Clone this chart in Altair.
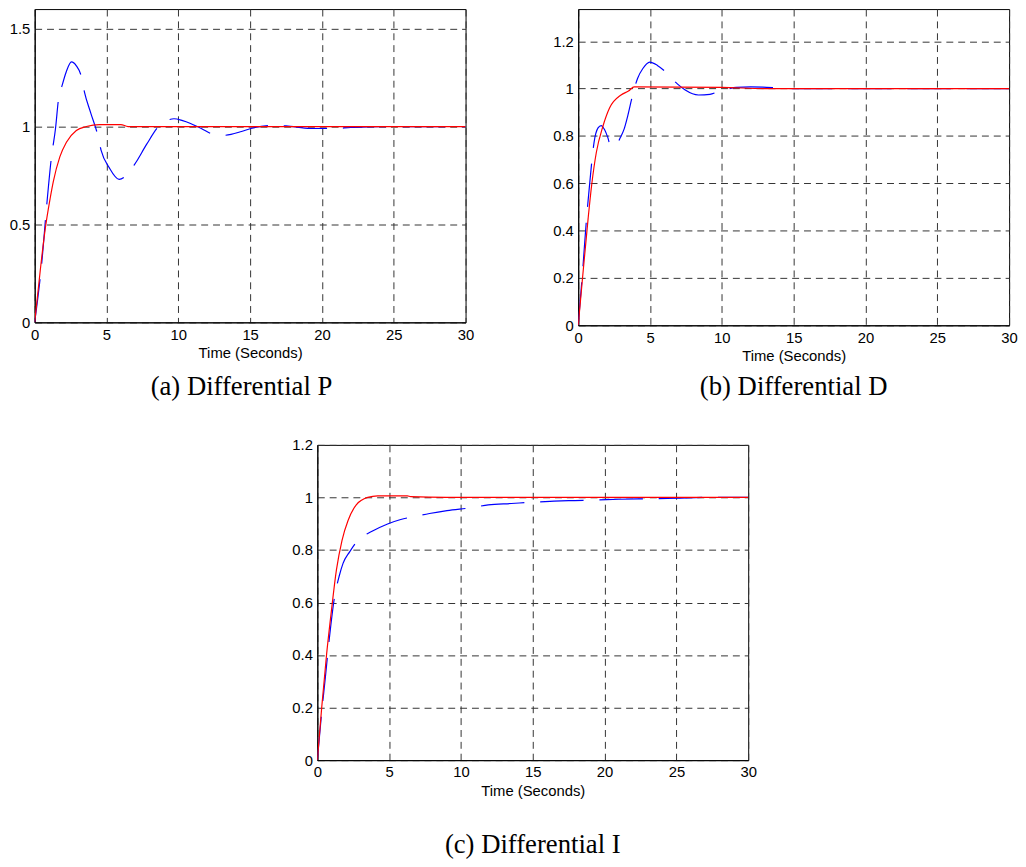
import altair as alt
import pandas as pd

# ---------------- data ----------------
# (a) Differential P
a_red_t = [0, 0.38, 0.72, 1.07, 1.3, 1.75, 2.21, 2.9, 3.6, 4.5, 6.0, 6.5, 30]
a_red_v = [0, 0.26, 0.47, 0.63, 0.72, 0.845, 0.92, 0.98, 1.0, 1.01, 1.01, 1.0, 1.0]
a_blue_t = [0, 0.5, 0.84, 1.16, 1.45, 1.66, 1.91, 2.2, 2.56, 2.9,
            3.25, 3.47, 3.9, 4.39, 4.62, 5.19, 5.88, 6.38, 7.03, 7.8,
            8.63, 9.2, 9.7, 10.3, 10.81, 11.6, 12.46, 13.1, 13.67, 14.4,
            15.05, 16.5, 17.5, 19.2, 20.8, 22, 24, 30]
a_blue_v = [0, 0.31, 0.6, 0.84, 0.99, 1.14, 1.21, 1.28, 1.33, 1.31,
            1.255, 1.175, 1.07, 0.956, 0.88, 0.79, 0.73, 0.75, 0.815, 0.91,
            1.0, 1.03, 1.04, 1.03, 1.017, 0.99, 0.96, 0.955, 0.96, 0.975,
            0.99, 1.005, 1.003, 0.99, 0.99, 0.995, 1.0, 1.0]

# (b) Differential D
b_red_t = [0, 0.3, 0.69, 0.95, 1.26, 1.72, 2.18, 2.98, 3.5, 3.9, 10, 13, 30]
b_red_v = [0, 0.2, 0.452, 0.6, 0.73, 0.841, 0.918, 0.973, 0.99, 1.007, 1.005, 1.0, 1.0]
b_blue_t = [0, 0.34, 0.57, 0.8, 0.96, 1.1, 1.38, 1.6, 1.83, 2.05,
            2.24, 2.55, 2.93, 3.2, 3.44, 3.79, 4.13, 4.5, 4.98, 5.51,
            6.19, 6.55, 6.92, 7.45, 8.37, 9.17, 9.74, 10.4, 11.0, 12.0,
            12.85, 13.9, 15, 30]
b_blue_v = [0, 0.257, 0.445, 0.6, 0.70, 0.772, 0.834, 0.844, 0.827, 0.795,
            0.76, 0.755, 0.793, 0.83, 0.883, 0.973, 1.043, 1.085, 1.112, 1.098,
            1.064, 1.04, 1.019, 0.994, 0.973, 0.976, 0.987, 0.998, 1.005, 1.007,
            1.006, 1.003, 1.0, 1.0]

# (c) Differential I
c_red_t = [0, 0.3, 0.64, 0.99, 1.33, 1.72, 2.14, 2.71, 3.51, 4.2, 6.27, 6.5, 9, 30]
c_red_v = [0, 0.197, 0.40, 0.573, 0.724, 0.837, 0.912, 0.972, 1.0, 1.006, 1.006, 1.003, 1.0, 1.0]
c_blue_t = [0, 0.3, 0.55, 0.83, 1.17, 1.52, 1.79, 2.25, 2.83, 3.81,
            4.89, 5.81, 6.73, 7.81, 9.03, 10.87, 11.9, 13.5, 15.0, 16.2,
            17.5, 19.3, 21, 23, 25, 27, 30]
c_blue_v = [0, 0.18, 0.31, 0.46, 0.611, 0.70, 0.749, 0.793, 0.837, 0.871,
            0.899, 0.916, 0.927, 0.939, 0.95, 0.962, 0.972, 0.977, 0.982, 0.985,
            0.988, 0.99, 0.993, 0.995, 0.997, 1.0, 1.0]

x_ticks = [0, 5, 10, 15, 20, 25, 30]
a_y_ticks = [0, 0.5, 1, 1.5]
bc_y_ticks = [0, 0.2, 0.4, 0.6, 0.8, 1, 1.2]

captions = ["(a) Differential P", "(b) Differential D", "(c) Differential I"]
x_title = "Time (Seconds)"

SANS = "Liberation Sans, Arial, sans-serif"
SERIF = "Liberation Serif, Times New Roman, serif"


def panel(rt, rv, bt, bv, ymax, yticks, height, caption, frame, offset):
    df_r = pd.DataFrame({"t": rt, "v": rv})
    df_b = pd.DataFrame({"t": bt, "v": bv})
    x = alt.X("t:Q", scale=alt.Scale(domain=[0, 30], nice=False, zero=False),
              axis=alt.Axis(values=x_ticks, title=x_title, grid=True))
    y = alt.Y("v:Q", scale=alt.Scale(domain=[0, ymax], nice=False, zero=False),
              axis=alt.Axis(values=yticks, format="~g", title=None, grid=True))
    blue = alt.Chart(df_b).mark_line(
        color="#0000ff", strokeWidth=1.2, strokeDash=[44, 16],
        interpolate="monotone", clip=True).encode(x=x, y=y)
    red = alt.Chart(df_r).mark_line(
        color="#ff0000", strokeWidth=1.2, interpolate="monotone",
        clip=True).encode(x=x, y=y)
    return alt.layer(blue, red).properties(
        width=436, height=height,
        title=alt.TitleParams(text=caption, orient="bottom", font=SERIF,
                              fontSize=27, fontWeight="normal", color="black",
                              offset=offset, anchor="middle", frame=frame))


pa = panel(a_red_t, a_red_v, a_blue_t, a_blue_v, 1.6, a_y_ticks, 317, captions[0], "bounds", 14)
pb = panel(b_red_t, b_red_v, b_blue_t, b_blue_v, 1.336, bc_y_ticks, 320, captions[1], "group", 11)
pc = panel(c_red_t, c_red_v, c_blue_t, c_blue_v, 1.2, bc_y_ticks, 319, captions[2], "group", 34)

spacer = alt.Chart(pd.DataFrame({"s": [0]})).mark_point(opacity=0).encode(
    x=alt.value(0), y=alt.value(0)
).properties(width=259, height=10, view=alt.ViewBackground(strokeOpacity=0))

row1 = alt.hconcat(pa, pb, spacing=78)
row2 = alt.hconcat(spacer, pc, spacing=0)

chart = alt.vconcat(row1, row2, spacing=36).properties(
    padding={"left": 0, "top": -5, "right": 0, "bottom": 0},
    background="white"
).configure_view(
    stroke="black", strokeWidth=1
).configure_axis(
    labelFont=SANS, labelFontSize=15, labelColor="black",
    titleFont=SANS, titleFontSize=15, titleFontWeight="normal", titleColor="black",
    ticks=False, domainColor="black", domainWidth=1,
    grid=True, gridColor="#333333", gridDash=[7, 5], gridWidth=1, gridOpacity=1,
    labelPadding=5, titlePadding=4, labelFlush=False, labelOverlap=False
)

chart.save("out.html", embed_options={"renderer": "svg", "actions": False})
